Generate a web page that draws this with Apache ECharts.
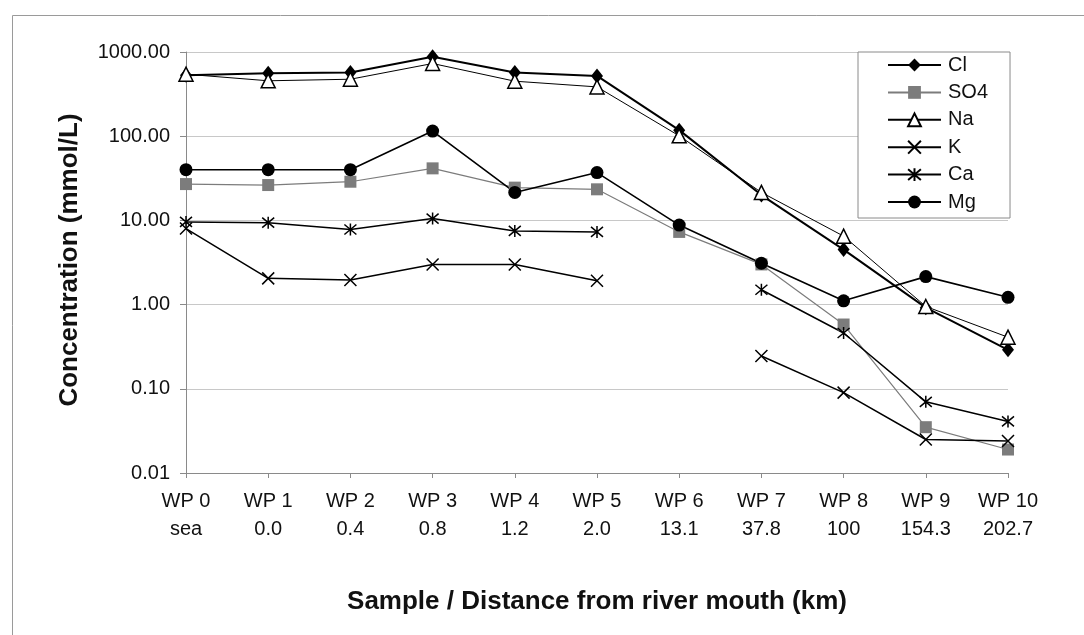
<!DOCTYPE html>
<html>
<head>
<meta charset="utf-8">
<title>Concentration vs distance from river mouth</title>
<script src="https://cdn.jsdelivr.net/npm/echarts@6/dist/echarts.min.js"></script>
<style>
  html, body { margin: 0; padding: 0; background: #fff; }
  #chart { width: 1084px; height: 635px; }
</style>
</head>
<body>
<div id="chart"></div>
<script>
// Sample stations and their distance from the river mouth (km)
const samples = ['WP 0', 'WP 1', 'WP 2', 'WP 3', 'WP 4', 'WP 5', 'WP 6', 'WP 7', 'WP 8', 'WP 9', 'WP 10'];
const distances = ['sea', '0.0', '0.4', '0.8', '1.2', '2.0', '13.1', '37.8', '100', '154.3', '202.7'];

// Concentrations (mmol/L); null = not measured
const cl  = [530, 560, 570, 880, 570, 520, 118, 20, 4.5, 0.92, 0.29];
const so4 = [27, 26.3, 28.8, 41.5, 24.5, 23.4, 7.3, 3.0, 0.58, 0.035, 0.019];
const na  = [545, 455, 475, 730, 450, 385, 101, 21.5, 6.5, 0.95, 0.41];
const k   = [8.0, 2.05, 1.96, 3.0, 3.0, 1.92, null, 0.245, 0.09, 0.025, 0.024];
const ca  = [9.6, 9.4, 7.8, 10.5, 7.5, 7.3, null, 1.5, 0.46, 0.07, 0.041];
const mg  = [40, 40, 40, 115, 21.5, 37, 8.8, 3.1, 1.11, 2.15, 1.22];

// Y axis tick labels, one per decade
const yTicks = ['0.01', '0.10', '1.00', '10.00', '100.00', '1000.00'];

const FONT = "'Liberation Sans', Arial, sans-serif";
const CROSS = 'path://M0 0L10 10M10 0L0 10';
const STAR = 'path://M0 0L10 10M10 0L0 10M5 -1L5 11';

function lineSeries(name, data, symbol, size, fill, lineColor, lineWidth, border) {
  return {
    name: name,
    type: 'line',
    data: data,
    symbol: symbol,
    symbolSize: size,
    connectNulls: false,
    showAllSymbol: true,
    lineStyle: { color: lineColor, width: lineWidth },
    itemStyle: {
      color: fill,
      borderColor: border ? border.color : fill,
      borderWidth: border ? border.width : 0
    },
    emphasis: { disabled: true },
    animation: false
  };
}

const chart = echarts.init(document.getElementById('chart'), null, { renderer: 'canvas' });

chart.setOption({
  backgroundColor: '#fff',
  animation: false,
  grid: { left: 186, right: 76, top: 52, bottom: 162 },
  legend: {
    orient: 'vertical',
    left: 858,
    top: 52,
    padding: [3, 22, 6, 29],
    itemWidth: 53,
    itemHeight: 16,
    itemGap: 7.4,
    borderColor: '#8a8a8a',
    borderWidth: 1,
    backgroundColor: '#fff',
    textStyle: { fontFamily: FONT, fontSize: 20, color: '#111', padding: [0, 0, 0, 2] },
    data: ['Cl', 'SO4', 'Na', 'K', 'Ca', 'Mg']
  },
  xAxis: {
    type: 'category',
    data: samples,
    boundaryGap: false,
    axisLine: { lineStyle: { color: '#8a8a8a', width: 1 } },
    axisTick: { show: true, length: 5, lineStyle: { color: '#8a8a8a' } },
    axisLabel: {
      fontFamily: FONT,
      fontSize: 20,
      color: '#111',
      margin: 14,
      lineHeight: 28,
      interval: 0,
      formatter: function (v, i) { return v + '\n' + distances[i]; }
    },
    splitLine: { show: false }
  },
  yAxis: {
    type: 'log',
    logBase: 10,
    min: 0.01,
    max: 1000,
    splitNumber: 5,
    axisLine: { show: true, lineStyle: { color: '#8a8a8a', width: 1 } },
    axisTick: { show: true, length: 6, lineStyle: { color: '#8a8a8a' } },
    minorTick: { show: false },
    axisLabel: {
      fontFamily: FONT,
      fontSize: 20,
      color: '#111',
      margin: 16,
      formatter: function (v) {
        const idx = Math.round(Math.log10(v)) + 2;
        return yTicks[idx] !== undefined ? yTicks[idx] : v.toFixed(2);
      }
    },
    splitLine: { show: true, lineStyle: { color: '#c8c8c8', width: 1 } }
  },
  series: [
    lineSeries('Cl', cl, 'diamond', [12, 15], '#000', '#000', 2),
    lineSeries('SO4', so4, 'rect', 12, '#7c7c7c', '#7c7c7c', 1.2),
    lineSeries('Na', na, 'triangle', 14, '#fff', '#000', 1, { color: '#000', width: 1.5 }),
    lineSeries('K', k, CROSS, 12, '#000', '#000', 1.5, { color: '#000', width: 1.5 }),
    lineSeries('Ca', ca, STAR, 12, '#000', '#000', 1.5, { color: '#000', width: 1.5 }),
    lineSeries('Mg', mg, 'circle', 13, '#000', '#000', 1.6)
  ],
  graphic: [
    // outer frame edges
    { type: 'line', shape: { x1: 12.5, y1: 15.5, x2: 1084, y2: 15.5 }, style: { stroke: '#9a9a9a', lineWidth: 1 }, silent: true },
    { type: 'line', shape: { x1: 12.5, y1: 15.5, x2: 12.5, y2: 635 }, style: { stroke: '#9a9a9a', lineWidth: 1 }, silent: true },
    {
      type: 'text',
      x: 70,
      y: 260,
      rotation: Math.PI / 2,
      style: {
        text: 'Concentration (mmol/L)',
        font: 'bold 26px ' + FONT,
        fill: '#111',
        align: 'center',
        verticalAlign: 'middle'
      },
      silent: true
    },
    {
      type: 'text',
      x: 597,
      y: 602,
      style: {
        text: 'Sample / Distance from river mouth (km)',
        font: 'bold 26px ' + FONT,
        fill: '#111',
        align: 'center',
        verticalAlign: 'middle'
      },
      silent: true
    }
  ]
});
</script>
</body>
</html>
